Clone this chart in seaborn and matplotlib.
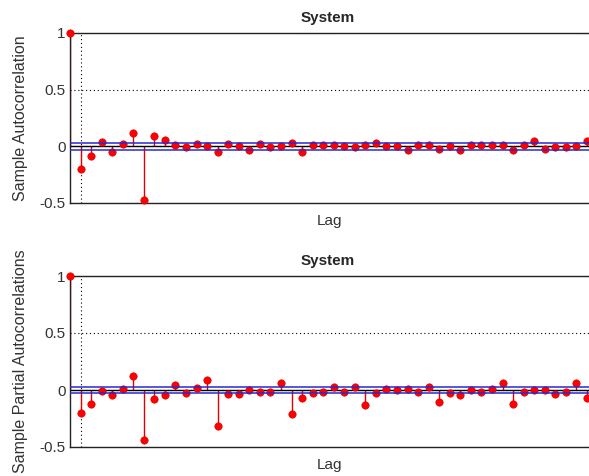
import numpy as np
import pandas as pd
import matplotlib
matplotlib.use("Agg")
import matplotlib.pyplot as plt
import seaborn as sns

# sample autocorrelation, lags 0..49
acf_vals = [1, -0.20, -0.086, 0.04, -0.048, 0.02, 0.115, -0.474, 0.094, 0.056,
            0.01, -0.005, 0.02, 0.006, -0.047, 0.02, 0.006, -0.032, 0.02, -0.009,
            0.006, 0.032, -0.047, 0.012, 0.012, 0.012, 0.006, -0.009, 0.012, 0.032,
            0.006, 0.006, -0.032, 0.012, 0.012, -0.024, 0.006, -0.032, 0.012, 0.012,
            0.012, 0.012, -0.032, 0.012, 0.047, -0.024, -0.009, -0.009, 0.006, 0.047]

# sample partial autocorrelation, lags 0..49
pacf_vals = [1, -0.199, -0.12, -0.01, -0.047, 0.006, 0.123, -0.44, -0.076, -0.047,
             0.04, -0.026, 0.02, 0.085, -0.316, -0.038, -0.038, -0.003, -0.018, -0.018,
             0.061, -0.208, -0.067, -0.026, -0.018, 0.026, -0.018, 0.026, -0.132, -0.026,
             0.006, -0.003, 0.006, -0.018, 0.026, -0.102, -0.026, -0.047, -0.003, -0.018,
             0.006, 0.061, -0.12, -0.018, -0.003, -0.003, -0.038, -0.018, 0.061, -0.067]

lags = np.arange(len(acf_vals))
bound = 0.03
title = "System"
ylabels = ["Sample Autocorrelation", "Sample Partial Autocorrelations"]

sns.set_style("white")
plt.rcParams['font.family'] = ['Liberation Sans', 'DejaVu Sans']

W, H = 589, 476
fig = plt.figure(figsize=(W / 100, H / 100), dpi=100)
# axes boxes in pixels: left, top, right, bottom
boxes = [(70, 33, 589, 203), (70, 276, 589, 447)]

for vals, ylab, (l, t, r, b) in zip([acf_vals, pacf_vals], ylabels, boxes):
    ax = fig.add_axes([l / W, 1 - b / H, (r - l) / W, (b - t) / H])
    df = pd.DataFrame({"lag": lags, "value": vals})
    ax.vlines(df["lag"], 0, df["value"], color="#e00000", lw=1, zorder=2)
    sns.scatterplot(data=df, x="lag", y="value", ax=ax, color="#ff0000",
                    s=28, edgecolor="#dd0000", linewidth=0.5, zorder=3, clip_on=False)
    ax.axhline(0, color="black", lw=1, zorder=2.5)
    ax.axhline(bound, color="#2828d0", lw=1.1, zorder=4)
    ax.axhline(-bound, color="#2828d0", lw=1.1, zorder=4)

    ax.set_xlim(0, 49.2)
    ax.set_ylim(-0.5, 1)
    ax.set_yticks([-0.5, 0, 0.5, 1])
    ax.set_yticklabels(["-0.5", "0", "0.5", "1"])
    ax.set_xticks([1])
    ax.set_xticklabels([])
    ax.grid(True, linestyle=(0, (1, 2.5)), color="black", lw=0.8)
    ax.tick_params(axis="both", length=0, labelsize=11, pad=3, colors="#333333")
    for side in ["top", "left", "bottom"]:
        ax.spines[side].set_color("#222222")
        ax.spines[side].set_linewidth(1)
    ax.spines["right"].set_visible(False)

    ax.set_xlabel("Lag", fontsize=11, labelpad=5, color="#333333")
    ax.set_ylabel(ylab, fontsize=11.5, color="#333333")
    ax.yaxis.set_label_coords((28 - l) / (r - l), 0.5)
    ax.set_title(title, fontsize=11, fontweight="bold", pad=8, x=(328 - l) / (r - l))

fig.savefig("out.png", dpi=100)
